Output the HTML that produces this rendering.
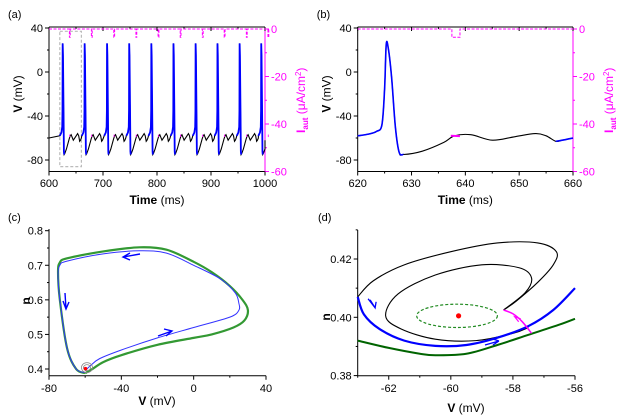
<!DOCTYPE html>
<html><head><meta charset="utf-8">
<style>
body{margin:0;background:#fff;}
svg{display:block;font-family:"Liberation Sans",sans-serif;}
</style></head>
<body>
<svg id="fig" width="618" height="416" viewBox="0 0 618 416" xmlns="http://www.w3.org/2000/svg"></svg>
<script>
// ---- data ----
const spikeTimes = [625.3, 666, 707.5, 748.5, 789.5, 830.5, 871.5, 912, 953, 993];
const tmplT = [-5.3,-2.3,-0.8,-0.3,0,0.6,1.5,2.3,2.8,4,7,12,14,15.7,19.7,23.7,27.7,29.7,31.5,33,34.7];
const tmplV = [-58,-55,-50,-35,26,15,-30,-72,-75,-74,-70,-61,-58,-57,-62,-59,-56,-58,-63,-62,-60];
const bTimes = [620,622,623.5,624.5,625,625.3,625.7,626.3,627,627.7,628.5,632,636,638,641,645,649,653,655,656.8,658,660];
const bVolts = [-58,-56.5,-54,-48,-15,25,21,-5,-50,-73,-75,-72,-64,-58,-57,-62,-59,-56,-58,-63,-62,-60];
const cGreenV = [-60,-65,-70,-74,-75,-74,-70,-50,-30,-15,0,10,20,27,30,28,22,10,0,-20,-40,-50,-56,-60];
const cGreenN = [0.388,0.40,0.46,0.6,0.68,0.708,0.72,0.74,0.752,0.745,0.71,0.68,0.64,0.60,0.57,0.54,0.52,0.50,0.49,0.47,0.44,0.42,0.40,0.388];
const cBlueV = [-60,-65,-70,-74,-75,-74,-70,-50,-30,-15,0,15,23,25,25,20,0,-20,-40,-52,-57,-60];
const cBlueN = [0.39,0.40,0.46,0.6,0.67,0.70,0.712,0.733,0.742,0.735,0.70,0.66,0.62,0.59,0.57,0.55,0.52,0.49,0.455,0.43,0.41,0.395];
const dOuterV = [-63,-62.5,-61.5,-60,-58.5,-57.2,-56.6,-56.7,-57.2,-57.9,-58.3];
const dOuterN = [0.407,0.4125,0.418,0.4225,0.4255,0.4255,0.4225,0.418,0.412,0.4055,0.4025];
const dInnerV = [-58.3,-57.6,-57.4,-57.8,-59,-60.5,-61.7,-62.1,-61.6,-60.5,-59.2,-58,-57.5];
const dInnerN = [0.4025,0.4085,0.4135,0.417,0.418,0.4145,0.408,0.4005,0.396,0.3925,0.392,0.3945,0.3965];
const dBlueV = [-63,-62.8,-62.3,-61.5,-60.5,-59.5,-58.5,-57.5,-56.7,-56];
const dBlueN = [0.407,0.401,0.396,0.392,0.3902,0.3905,0.393,0.397,0.4025,0.41];
const dGreenV = [-63,-62,-61,-60.5,-59.5,-58.5,-57.5,-56.5,-56];
const dGreenN = [0.392,0.3895,0.3875,0.387,0.3875,0.3905,0.394,0.3975,0.3995];
const dMagV = [-58.3,-58.0,-57.7,-57.4];
const dMagN = [0.4025,0.4012,0.3985,0.3945];

const S='http://www.w3.org/2000/svg';
const svg=document.getElementById('fig');
function el(tag,attrs,parent){const e=document.createElementNS(S,tag);for(const k in attrs)e.setAttribute(k,attrs[k]);(parent||svg).appendChild(e);return e;}
function txt(x,y,s,attrs){const t=el('text',Object.assign({x:x,y:y,'font-size':11},attrs||{}));t.textContent=s;return t;}
function lin(d0,d1,r0,r1){return v=>r0+(v-d0)*(r1-r0)/(d1-d0);}
function poly(xs,ys,fx,fy,style){return el('polyline',Object.assign({points:xs.map((v,i)=>fx(v).toFixed(2)+','+fy(ys[i]).toFixed(2)).join(' '),fill:'none'},style));}
function smooth(xs,ys,fx,fy,style){
  const P=xs.map((v,i)=>[fx(v),fy(ys[i])]);
  let d='M'+P[0][0].toFixed(2)+','+P[0][1].toFixed(2);
  for(let i=0;i<P.length-1;i++){const p0=P[i-1]||P[i],p1=P[i],p2=P[i+1],p3=P[i+2]||p2;
    const c1=[p1[0]+(p2[0]-p0[0])/6,p1[1]+(p2[1]-p0[1])/6],c2=[p2[0]-(p3[0]-p1[0])/6,p2[1]-(p3[1]-p1[1])/6];
    d+=' C'+c1.map(v=>v.toFixed(2)).join(',')+' '+c2.map(v=>v.toFixed(2)).join(',')+' '+p2.map(v=>v.toFixed(2)).join(',');}
  return el('path',Object.assign({d:d,fill:'none','stroke-linejoin':'round'},style));
}

function timePanel(id,x0,x1,t0,t1,tticks,minor){
  const g=el('g',{});
  
  
  const fx=lin(t0,t1,x0,x1), fy=lin(40,-80,28,160), fi=lin(0,-60,29,171.5);
  return {g,fx,fy,fi,x0,x1,tticks,minor};
}
function drawAxesTime(p,label){
  const {g,fx,fy,fi,x0,x1}=p;
  el('line',{x1:x0,y1:27,x2:x1,y2:27,stroke:'#000','stroke-width':1},g);
  el('line',{x1:x0,y1:171.5,x2:x1,y2:171.5,stroke:'#000','stroke-width':1},g);
  el('line',{x1:x0,y1:27,x2:x0,y2:171.5,stroke:'#000','stroke-width':1},g);
  el('line',{x1:x1,y1:27,x2:x1,y2:171.5,stroke:'#f0f','stroke-width':1},g);
  [40,0,-40,-80].forEach(v=>{el('line',{x1:x0-4,y1:fy(v),x2:x0,y2:fy(v),stroke:'#000'},g);txt(x0-6,fy(v)+4,String(v),{'text-anchor':'end'});});
  [20,-20,-60].forEach(v=>el('line',{x1:x0-2,y1:fy(v),x2:x0,y2:fy(v),stroke:'#000'},g));
  [0,-20,-40,-60].forEach(v=>{el('line',{x1:x1,y1:fi(v),x2:x1+4,y2:fi(v),stroke:'#f0f'},g);txt(x1+6,fi(v)+4,String(v),{fill:'#f0f'});});
  [-10,-30,-50].forEach(v=>el('line',{x1:x1,y1:fi(v),x2:x1+2,y2:fi(v),stroke:'#f0f'},g));
  p.tticks.forEach(t=>{el('line',{x1:fx(t),y1:171.5,x2:fx(t),y2:175.5,stroke:'#000'},g);el('line',{x1:fx(t),y1:27,x2:fx(t),y2:31,stroke:'#000'},g);txt(fx(t),187,String(t),{'text-anchor':'middle'});});
  p.minor.forEach(t=>{el('line',{x1:fx(t),y1:171.5,x2:fx(t),y2:173.5,stroke:'#000'},g);el('line',{x1:fx(t),y1:27,x2:fx(t),y2:29,stroke:'#000'},g);});
  const xt=txt((x0+x1)/2,204,'',{'text-anchor':'middle','font-size':12});
  xt.innerHTML='<tspan font-weight="bold">Time</tspan> (ms)';
  const yt=txt(0,0,'',{'font-size':12,transform:`translate(${x0-27},${fy(-20)}) rotate(-90)`,'text-anchor':'middle'});
  yt.innerHTML='<tspan font-weight="bold">V</tspan> (mV)';
  const it=txt(0,0,'',{'font-size':12,fill:'#f0f',transform:`translate(${x1+40},${fi(-30)}) rotate(-90)`,'text-anchor':'middle'});
  it.innerHTML='<tspan font-weight="bold">I</tspan><tspan font-size="8" dy="3" font-weight="bold">aut</tspan><tspan dy="-3"> (μA/cm</tspan><tspan font-size="8" dy="-4">2</tspan><tspan dy="4">)</tspan>';
  txt(x0-41,18,label,{'font-size':11});
}
// panel a
const pa=timePanel('a',49,265,600,1000,[600,700,800,900,1000],[650,750,850,950]);
drawAxesTime(pa,'(a)');
el('rect',{x:pa.fx(620),y:pa.fy(37),width:pa.fx(660)-pa.fx(620),height:pa.fy(-86)-pa.fy(37),fill:'none',stroke:'#bbb','stroke-dasharray':'3,2','stroke-width':1.2});
{let xs=[600],ys=[0];spikeTimes.forEach(s=>{const m=s+12.5;xs.push(m,m,m+1.5,m+1.5);ys.push(0,-3.5,-3.5,0);});xs.push(1000);ys.push(0);
 const l=poly(xs,ys,pa.fx,pa.fi,{stroke:'#f0f','stroke-width':1,'stroke-dasharray':'3,1.5'});}
{const ts=[],vs=[];ts.push(600);vs.push(-60);
 spikeTimes.forEach(s=>{tmplT.forEach((d,i)=>{const t=s+d;if(t>=600&&t<=1000){ts.push(t);vs.push(tmplV[i]);}});});
 ts.push(1000);vs.push(-62);
 const black=poly(ts,vs,pa.fx,pa.fy,{stroke:'#000','stroke-width':1.1});
 spikeTimes.forEach(s=>{const bt=[],bv=[];tmplT.forEach((d,i)=>{if(d<=2.8){bt.push(s+d);bv.push(tmplV[i]);}});
   const pb=poly(bt,bv,pa.fx,pa.fy,{stroke:'#00f','stroke-width':1.8});
   const m=el('line',{x1:pa.fx(s+12.3),y1:pa.fy(-58),x2:pa.fx(s+13.8),y2:pa.fy(-58),stroke:'#f0f','stroke-width':2.5});});
}
// panel b
const pb=timePanel('b',357.7,573,620,660,[620,630,640,650,660],[625,635,645,655]);
drawAxesTime(pb,'(b)');
{const m=poly([620,637.5,637.5,639,639,660],[0,0,-3.5,-3.5,0,0],pb.fx,pb.fi,{stroke:'#f0f','stroke-width':1,'stroke-dasharray':'3,1.5'});
 const k=smooth(bTimes,bVolts,pb.fx,pb.fy,{stroke:'#000','stroke-width':1.1});
 const bt=[],bv=[];bTimes.forEach((t,i)=>{if(t<=628.5){bt.push(t);bv.push(bVolts[i]);}});
 const b1=smooth(bt,bv,pb.fx,pb.fy,{stroke:'#00f','stroke-width':1.6});
 const bt2=[],bv2=[];bTimes.forEach((t,i)=>{if(t>=656.8){bt2.push(t);bv2.push(bVolts[i]);}});
 smooth(bt2,bv2,pb.fx,pb.fy,{stroke:'#00f','stroke-width':1.6});
 el('line',{x1:pb.fx(637.3),y1:pb.fy(-58),x2:pb.fx(639),y2:pb.fy(-58.3),stroke:'#f0f','stroke-width':2});
}

// ---------- panel c ----------
{const x0=49,x1=266,fx=lin(-80,40,49,266),fy=lin(0.4,0.8,369,230.7),yb=375.7;
 el('line',{x1:x0,y1:yb,x2:x1,y2:yb,stroke:'#000'});el('line',{x1:x0,y1:yb,x2:x0,y2:229,stroke:'#000'});
 [-80,-40,0,40].forEach(v=>{el('line',{x1:fx(v),y1:yb,x2:fx(v),y2:yb+4,stroke:'#000'});txt(fx(v),392,String(v),{'text-anchor':'middle'});});
 [-60,-20,20].forEach(v=>el('line',{x1:fx(v),y1:yb,x2:fx(v),y2:yb+2,stroke:'#000'}));
 [0.4,0.5,0.6,0.7,0.8].forEach(v=>{el('line',{x1:x0-4,y1:fy(v),x2:x0,y2:fy(v),stroke:'#000'});txt(x0-6,fy(v)+4,v.toFixed(1),{'text-anchor':'end'});});
 [0.45,0.55,0.65,0.75].forEach(v=>el('line',{x1:x0-2,y1:fy(v),x2:x0,y2:fy(v),stroke:'#000'}));
 const xt=txt(157,405,'',{'text-anchor':'middle','font-size':12});xt.innerHTML='<tspan font-weight="bold">V</tspan> (mV)';
 txt(0,0,'n',{'font-size':12,'font-weight':'bold',transform:`translate(30,301) rotate(-90)`,'text-anchor':'middle'});
 txt(8,221,'(c)');
 const g=smooth(cGreenV,cGreenN,fx,fy,{stroke:'#339933','stroke-width':2.2});
 const b=smooth(cBlueV,cBlueN,fx,fy,{stroke:'#3333ff','stroke-width':1});
 el('ellipse',{cx:fx(-59),cy:fy(0.404),rx:3.5,ry:3,fill:'none',stroke:'#888','stroke-width':0.8});
 el('ellipse',{cx:fx(-59),cy:fy(0.404),rx:5.5,ry:5,fill:'none',stroke:'#888','stroke-width':0.8});
 el('circle',{cx:fx(-59.8),cy:fy(0.401),r:1.8,fill:'red'});
 const arr=(x,y,d)=>el('path',{d:d,transform:`translate(${x},${y})`,fill:'none',stroke:'#00f','stroke-width':1.4});
 arr(130,257,'M0,-4 L-7,0 L0,3 M-7,0 L10,-3');
 arr(66,305,'M-3,-4 L0,4 L3,-3 M0,4 L-1,-12');
 arr(166,333,'M-2,-4 L6,-2 L0,3 M6,-2 L-8,3');
}

// ---------- panel d ----------
{const x0=357.7,x1=575,fx=lin(-63,-56,357.7,575),fy=lin(0.40,0.42,317.3,259),yb=375.7;
 el('line',{x1:x0,y1:yb,x2:x1,y2:yb,stroke:'#000'});el('line',{x1:x0,y1:yb,x2:x0,y2:230,stroke:'#000'});
 [-62,-60,-58,-56].forEach(v=>{el('line',{x1:fx(v),y1:yb,x2:fx(v),y2:yb+4,stroke:'#000'});txt(fx(v),392,String(v),{'text-anchor':'middle'});});
 [-63,-61,-59,-57].forEach(v=>el('line',{x1:fx(v),y1:yb,x2:fx(v),y2:yb+2,stroke:'#000'}));
 [0.38,0.40,0.42].forEach(v=>{el('line',{x1:x0-4,y1:fy(v),x2:x0,y2:fy(v),stroke:'#000'});txt(x0-6,fy(v)+4,v.toFixed(2),{'text-anchor':'end'});});
 [0.39,0.41,0.43].forEach(v=>el('line',{x1:x0-2,y1:fy(v),x2:x0,y2:fy(v),stroke:'#000'}));
 const xt=txt(466,412,'',{'text-anchor':'middle','font-size':12});xt.innerHTML='<tspan font-weight="bold">V</tspan> (mV)';
 txt(0,0,'n',{'font-size':12,'font-weight':'bold',transform:`translate(330,317) rotate(-90)`,'text-anchor':'middle'});
 txt(318,221,'(d)');
 const mk=(xs,ys,st,name)=>{const p=smooth(xs,ys,fx,fy,st);return p;};
 mk(dOuterV,dOuterN,{stroke:'#000','stroke-width':1.1},'outer-spiral-d');
 mk(dInnerV,dInnerN,{stroke:'#000','stroke-width':1.1},'inner-spiral-d');
 el('ellipse',{cx:fx(-59.8),cy:fy(0.4005),rx:fx(-58.5)-fx(-59.8),ry:fy(0.3965)-fy(0.4005),fill:'none',stroke:'#228b22','stroke-width':1.2,'stroke-dasharray':'3,2'});
 mk(dGreenV,dGreenN,{stroke:'#006400','stroke-width':2},'limit-cycle-d');
 mk(dBlueV,dBlueN,{stroke:'#0000ff','stroke-width':2.2},'trajectory-d');
 mk(dMagV,dMagN,{stroke:'#f0f','stroke-width':1.5},'aut-perturbation-d');
 el('path',{d:`M${fx(-57.75)},${fy(0.3995)} l-6,-2 l4,5`,fill:'none',stroke:'#f0f','stroke-width':1.2});
 el('circle',{cx:fx(-59.75),cy:fy(0.4005),r:2.6,fill:'red'});
 el('path',{d:`M${fx(-62.6)},${fy(0.406)} l5,8 l1,-6 M${fx(-62.6)+5},${fy(0.406)+8} l-7,-9`,fill:'none',stroke:'#00f','stroke-width':1.3});
 el('path',{d:`M${fx(-58.9)},${fy(0.3905)} l14,-4 M${fx(-58.9)+14},${fy(0.3905)-4} l-6,-2 M${fx(-58.9)+14},${fy(0.3905)-4} l-6,4`,fill:'none',stroke:'#00f','stroke-width':1.3});
}
</script>
</body></html>
